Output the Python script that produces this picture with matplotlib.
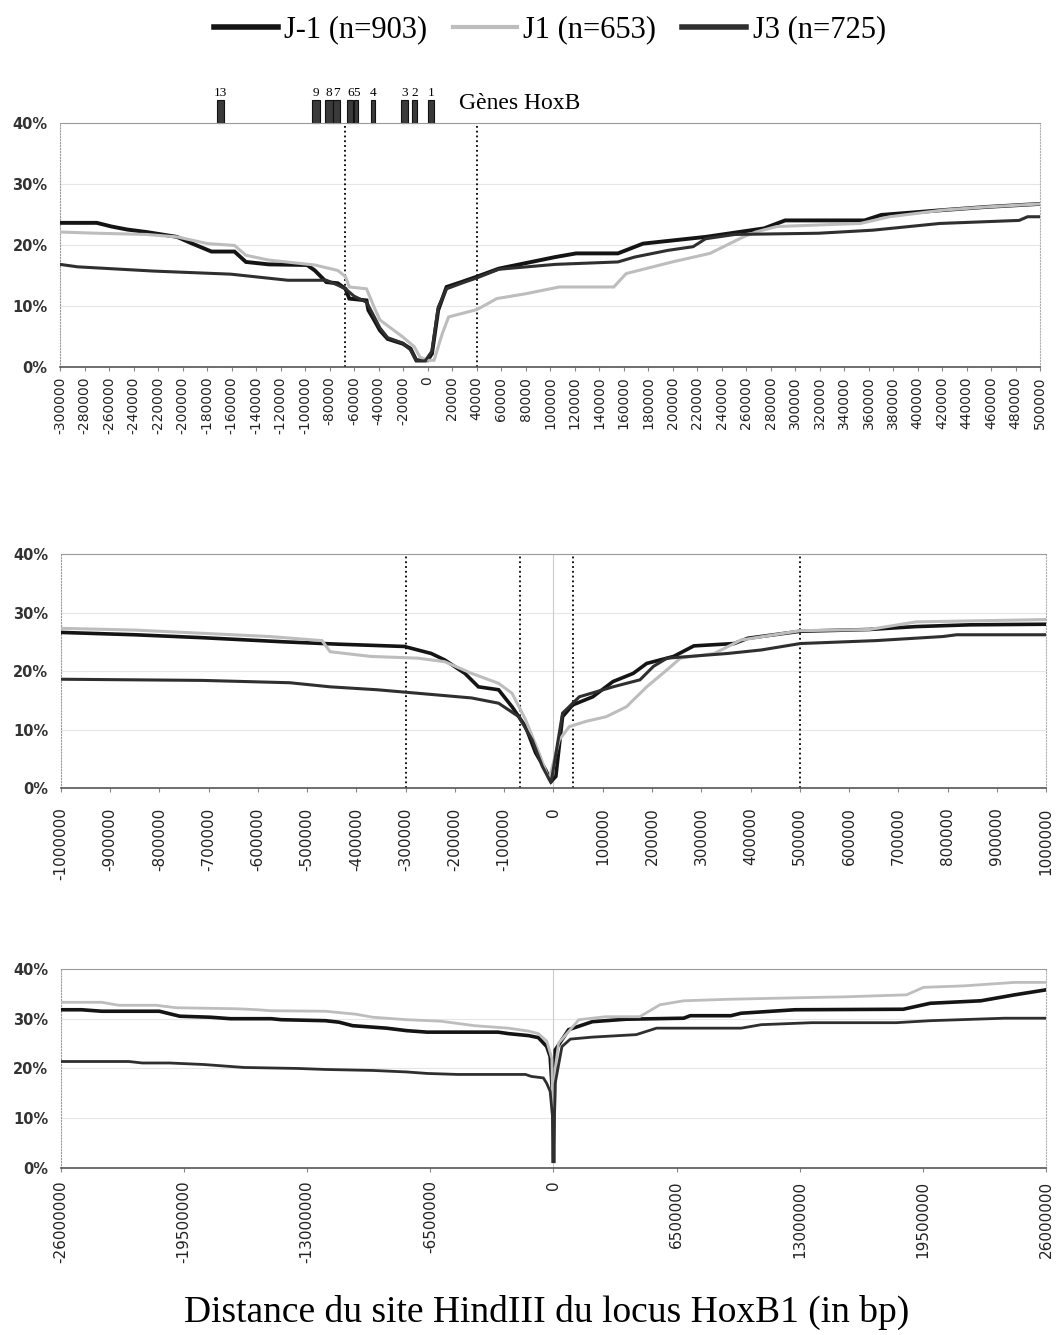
import matplotlib
matplotlib.use("Agg")
import matplotlib.pyplot as plt
import matplotlib.transforms as mtransforms
from matplotlib.lines import Line2D
from matplotlib.patches import Rectangle
import numpy as np

# ---- series labels / styles
series_names = ["J-1 (n=903)", "J1 (n=653)", "J3 (n=725)"]
series_colors = ["#141414", "#bdbdbd", "#2f2f2f"]

# ---- top panel (-300 kb .. +500 kb)
top_jm1_x = [-300000, -270000, -258000, -245000, -229500, -204500, -192000, -176400, -157600, -148300,
             -129500, -98300, -92000, -82600, -73200, -67000, -63900, -49800, -48300, -43600,
             -38900, -32600, -20100, -13900, -9200, 0, 3600, 8700, 15500, 27500,
             40400, 58100, 104200, 121300, 155400, 175900, 227000, 274800, 291900, 356700,
             370400, 421500, 455700, 500000]
top_jm1_y = [23.6, 23.6, 23.0, 22.5, 22.1, 21.3, 20.2, 18.9, 18.9, 17.2,
             16.8, 16.7, 15.8, 13.9, 13.7, 12.8, 11.2, 10.9, 9.3, 7.7,
             6.0, 4.6, 3.8, 3.0, 1.1, 1.1, 2.2, 9.3, 13.1, 13.9,
             14.8, 16.1, 18.0, 18.6, 18.6, 20.2, 21.3, 22.7, 24.0, 24.0,
             24.9, 25.7, 26.2, 26.7]

top_j1_x = [-300000, -270100, -229500, -204500, -179500, -157600, -148300, -129500, -92000, -73200,
            -67000, -63900, -49800, -43600, -38900, -20100, -10800, -6100, 0, 5300,
            12100, 17200, 32600, 40400, 56500, 80300, 107600, 152000, 162200, 199800,
            230500, 257800, 268000, 285100, 353300, 377200, 421500, 455700, 500000]
top_j1_y = [22.1, 21.9, 21.7, 21.3, 20.2, 19.9, 18.3, 17.5, 16.7, 15.8,
            14.8, 13.1, 12.8, 9.8, 7.7, 4.9, 3.3, 1.6, 1.1, 1.1,
            5.5, 8.2, 9.0, 9.4, 11.2, 12.0, 13.1, 13.1, 15.3, 17.2,
            18.6, 21.3, 22.1, 23.0, 23.5, 24.6, 25.7, 26.2, 26.7]

top_j3_x = [-300000, -285700, -223200, -160700, -113900, -82600, -73200, -67000, -60000, -49800,
            -45000, -38900, -32600, -20100, -13900, -9200, -2000, 3600, 8700, 15500,
            27500, 40400, 58100, 104200, 155400, 169000, 196300, 216800, 227000, 250900,
            319200, 363500, 418100, 482900, 489800, 500000]
top_j3_y = [16.8, 16.4, 15.7, 15.2, 14.2, 14.2, 13.4, 12.8, 11.6, 10.6,
            8.8, 6.4, 4.8, 3.9, 2.8, 1.0, 1.0, 2.6, 9.8, 12.8,
            13.7, 14.6, 16.0, 16.8, 17.2, 18.0, 19.1, 19.7, 21.0, 21.7,
            21.9, 22.4, 23.5, 24.0, 24.6, 24.6]

# HoxB genes drawn above the top panel
gene_names = ["13", "9", "8", "7", "6", "5", "4", "3", "2", "1"]
gene_start = [-172000, -94000, -83500, -77000, -65500, -60000, -46000, -21500, -12500, 500]
gene_end = [-166000, -88000, -77500, -71500, -60500, -56500, -42500, -16000, -8800, 5000]

# ---- middle panel (-1 Mb .. +1 Mb)
mid_jm1_x = [-1000000, -850000, -713300, -549100, -439700, -303000, -248200, -221000, -179900, -152500,
             -111500, -84200, -56800, -36300, -15900, -4900, 4800, 18400, 38900, 79800,
             120800, 161900, 189300, 244000, 285000, 367000, 394400, 501000, 640600, 736300,
             845700, 1000000]
mid_jm1_y = [26.6, 26.2, 25.7, 25.0, 24.6, 24.2, 23.0, 21.9, 19.6, 17.3,
             16.8, 13.9, 10.5, 6.0, 3.1, 1.1, 2.0, 12.2, 14.2, 15.6,
             18.2, 19.6, 21.3, 22.5, 24.3, 24.7, 25.6, 26.8, 27.1, 27.6,
             27.9, 28.0]

mid_j1_x = [-1000000, -850000, -576500, -470000, -453500, -371300, -275600, -221000, -166300, -111500,
            -84200, -56800, -29500, -9100, 11500, 32100, 66100, 107200, 148200, 189300,
            230400, 257700, 326100, 380700, 501000, 640600, 736300, 1000000]
mid_j1_y = [27.3, 27.0, 25.9, 25.2, 23.3, 22.5, 22.2, 21.6, 19.6, 17.9,
            16.2, 11.7, 6.0, 1.4, 8.2, 10.5, 11.4, 12.2, 13.9, 17.3,
            20.2, 22.2, 23.0, 25.3, 26.9, 27.1, 28.4, 28.8]

mid_j3_x = [-1000000, -713300, -535400, -453500, -357800, -248200, -166300, -111500, -70500, -43200,
            -22700, -4900, 18400, 52500, 120800, 175600, 203000, 230400, 353400, 421700,
            501000, 654300, 790900, 818300, 1000000]
mid_j3_y = [18.6, 18.4, 18.0, 17.3, 16.8, 16.0, 15.4, 14.5, 12.2, 8.2,
            3.7, 0.9, 12.8, 15.6, 17.3, 18.5, 20.8, 22.2, 23.0, 23.6,
            24.7, 25.2, 25.9, 26.2, 26.2]

# ---- bottom panel (-26 Mb .. +26 Mb)
bot_jm1_x = [-26000000, -24920000, -23850000, -20810000, -19730000, -18120000, -17050000, -14900000,
             -14370000, -12040000, -11320000, -10610000, -8820000, -7750000, -6670000, -2920000,
             -2380000, -1310000, -800000, -357000, -178000, -54000, 0, 40000, 89000, 800000,
             2050000, 3830000, 6870000, 7220000, 9360000, 9900000, 12750000, 18460000, 19890000,
             22560000, 24350000, 26000000]
bot_jm1_y = [31.8, 31.8, 31.5, 31.5, 30.5, 30.3, 30.0, 30.0,
             29.8, 29.6, 29.3, 28.6, 28.1, 27.6, 27.3, 27.3,
             27.0, 26.6, 26.2, 24.4, 22.4, 15.0, 1.0, 12.0, 23.7, 27.8,
             29.4, 29.9, 30.1, 30.6, 30.6, 31.1, 31.8, 31.9, 33.1,
             33.6, 34.8, 35.8]

bot_j1_x = [-26000000, -23850000, -22950000, -20980000, -19910000, -16690000, -15620000, -14900000,
            -12040000, -10430000, -9540000, -7750000, -5960000, -4170000, -2380000, -1310000,
            -800000, -357000, -89000, -30000, 0, 50000, 89000, 268000, 1340000, 2760000,
            4550000, 5620000, 6870000, 9190000, 12750000, 15430000, 18640000, 19530000, 21670000,
            24350000, 26000000]
bot_j1_y = [33.3, 33.3, 32.7, 32.7, 32.2, 32.0, 31.8, 31.6,
            31.5, 30.9, 30.3, 29.8, 29.5, 28.6, 28.1, 27.5,
            27.0, 25.5, 22.0, 10.0, 1.0, 12.0, 20.0, 25.1, 29.8, 30.4,
            30.4, 32.8, 33.6, 33.9, 34.2, 34.4, 34.8, 36.3, 36.6,
            37.3, 37.3]

bot_j3_x = [-26000000, -22420000, -21700000, -20270000, -18480000, -16330000, -13470000, -12040000,
            -9540000, -7750000, -6670000, -5060000, -1480000, -1170000, -535000, -357000,
            -178000, -54000, 0, 89000, 446000, 890000, 2050000, 4370000, 5440000, 9900000,
            10970000, 13640000, 18100000, 19890000, 23810000, 26000000]
bot_j3_y = [21.4, 21.4, 21.1, 21.1, 20.8, 20.2, 20.0, 19.8,
            19.6, 19.3, 19.0, 18.8, 18.8, 18.4, 18.1, 17.0,
            15.4, 10.4, 1.0, 17.0, 24.4, 25.9, 26.3, 26.8, 28.1, 28.1,
            28.8, 29.2, 29.2, 29.6, 30.1, 30.1]

y_ticks = [0, 10, 20, 30, 40]
y_labels = ["0%", "10%", "20%", "30%", "40%"]

serif = "Liberation Serif"

fig = plt.figure(figsize=(10.57, 13.35), dpi=100)
ax_top = fig.add_axes([0.0568, 0.7251, 0.9272, 0.1830])
ax_mid = fig.add_axes([0.0577, 0.4097, 0.9319, 0.1753])
ax_bot = fig.add_axes([0.0577, 0.1251, 0.9319, 0.1491])


def setup_axis(ax, xmin, xmax, step, tick_fs, tick_pad):
    ax.set_xlim(xmin, xmax)
    ax.set_ylim(0, 40)
    ticks = np.arange(xmin, xmax + step, step)
    ax.set_xticks(ticks)
    ax.set_xticklabels([str(int(t)) for t in ticks], rotation=90, va="top",
                       fontsize=tick_fs, color="#222222")
    ax.tick_params(axis="x", length=3, color="#888888", pad=tick_pad)
    ax.set_yticks(y_ticks)
    ax.set_yticklabels(y_labels, fontsize=10.5, fontweight="bold", color="#333333")
    ax.tick_params(axis="y", length=0, pad=9)
    for v in [10, 20, 30]:
        ax.axhline(v, color="#e6e6e6", lw=0.8, zorder=0)
    ax.spines["top"].set_color("#9a9a9a")
    ax.spines["left"].set_color("#9a9a9a")
    ax.spines["left"].set_linestyle(":")
    ax.spines["right"].set_color("#b0b0b0")
    ax.spines["right"].set_linestyle(":")
    ax.spines["bottom"].set_color("#555555")
    ax.spines["bottom"].set_linewidth(1.2)


def draw_series(ax, xs, ys, widths):
    order = [1, 2, 0]
    for i in order:
        ax.plot(xs[i], ys[i], color=series_colors[i], lw=widths[i], zorder=3 + i,
                solid_joinstyle="miter")


# top
setup_axis(ax_top, -300000, 500000, 20000, 10, 4)
draw_series(ax_top, [top_jm1_x, top_j1_x, top_j3_x], [top_jm1_y, top_j1_y, top_j3_y], [2.8, 2.2, 2.2])
for xv in [-67000, 40000]:
    ax_top.axvline(xv, color="black", ls=":", lw=1.3, zorder=2)

trans = mtransforms.blended_transform_factory(ax_top.transData, ax_top.transAxes)
for name, s, e in zip(gene_names, gene_start, gene_end):
    ax_top.add_patch(Rectangle((s, 1.0), e - s, 0.094, transform=trans, clip_on=False,
                               facecolor="#3a3a3a", edgecolor="#111111", lw=0.8))
    ax_top.text((s + e) / 2, 1.098, name, transform=trans, ha="center", va="bottom",
                fontsize=9.5, family=serif)
ax_top.text(25300, 1.077, "Gènes HoxB", transform=trans, ha="left", va="center",
            fontsize=17, family=serif)

# middle
setup_axis(ax_mid, -1000000, 1000000, 100000, 11, 11)
ax_mid.axvline(0, color="#cccccc", lw=0.8, zorder=1)
draw_series(ax_mid, [mid_jm1_x, mid_j1_x, mid_j3_x], [mid_jm1_y, mid_j1_y, mid_j3_y], [2.6, 2.2, 2.2])
for xv in [-300000, -67000, 40000, 500000]:
    ax_mid.axvline(xv, color="black", ls=":", lw=1.3, zorder=2)

# bottom
setup_axis(ax_bot, -26000000, 26000000, 6500000, 11, 6)
ax_bot.axvline(0, color="#cccccc", lw=0.8, zorder=1)
draw_series(ax_bot, [bot_jm1_x, bot_j1_x, bot_j3_x], [bot_jm1_y, bot_j1_y, bot_j3_y], [2.6, 2.0, 2.0])

# legend
handles = [Line2D([0], [0], color=series_colors[i], lw=[4, 3, 4][i]) for i in range(3)]
fig.legend(handles, series_names, loc="center", bbox_to_anchor=(0.52, 0.9775), ncol=3,
           frameon=False, prop={"family": serif, "size": 22}, handlelength=2.1,
           handletextpad=0.2, columnspacing=0.85)

fig.text(0.517, 1 - 1312 / 1335, "Distance du site HindIII du locus HoxB1 (in bp)",
         ha="center", va="center", fontsize=27, family=serif)

fig.savefig("out.png", dpi=100)
